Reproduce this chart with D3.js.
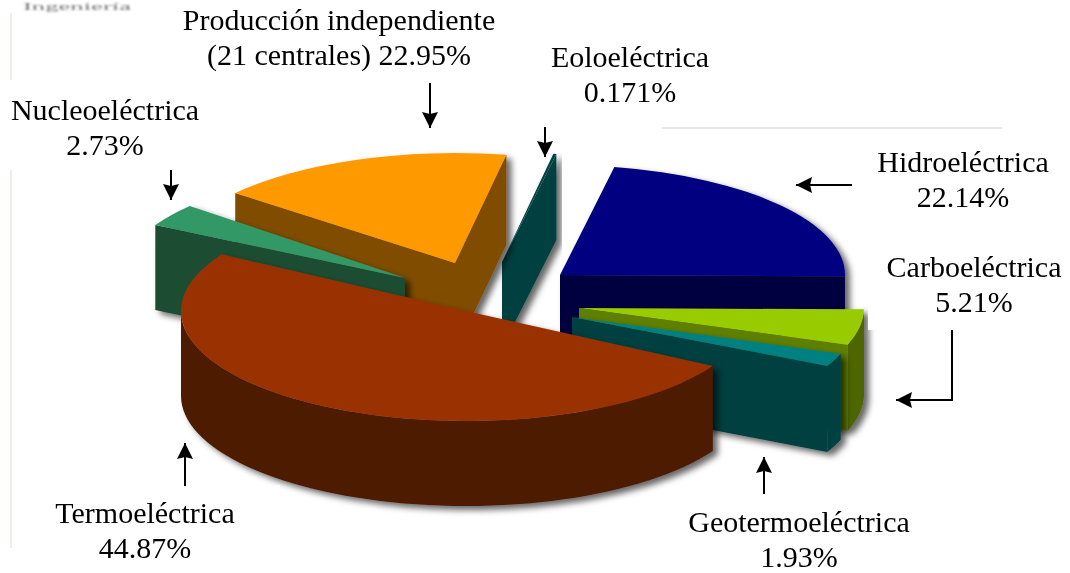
<!DOCTYPE html>
<html>
<head>
<meta charset="utf-8">
<script src="https://cdn.jsdelivr.net/npm/d3@7"></script>
<style>
    html, body { margin: 0; padding: 0; background: #fff; }
    svg { display: block; }
    text { font-family: "Liberation Serif", serif; font-size: 30px; fill: #000; }
</style>
</head>
<body>
<svg width="1070" height="573"></svg>
<script>
// pie order, clockwise from the top of the hydro slice
const sliceNames = ["Hidroeléctrica", "Carboeléctrica", "Geotermoeléctrica", "Termoeléctrica", "Nucleoeléctrica", "Producción", "Eoloeléctrica"];
// slice sizes as they are drawn in the picture (termo and produccion differ from their printed %)
const drawnShares = [22.14, 5.21, 1.93, 50.28, 3.37, 16.899, 0.171];
const labelFirstLines = ["Hidroeléctrica", "Carboeléctrica", "Geotermoeléctrica", "Termoeléctrica", "Nucleoeléctrica", "Producción independiente", "Eoloeléctrica"];
const labelSecondLines = ["22.14%", "5.21%", "1.93%", "44.87%", "2.73%", "(21 centrales) 22.95%", "0.171%"];

// exploded position of each slice, same order as sliceNames
const apexX = [560, 579, 572, 466, 405, 455, 502];
const apexY = [275, 308, 317, 311, 278, 263, 262];
const depths = [60, 86, 86, 85, 85, 90, 86];
const turns = [0, 0, 0, 3.6, 1.4, 0, 0];
const topColors = ["#000080", "#99cc00", "#008080", "#993300", "#339966", "#ff9900", "#004040"];
const sideColors = ["#000040", "#5f7f00", "#004040", "#4d1a00", "#1a4d33", "#804d00", "#004040"];
const rimColors = ["#000040", "#4d6600", "#004040", "#4d1a00", "#1a4d33", "#804d00", "#004040"];
const drawOrder = [0, 6, 5, 4, 1, 2, 3];

const labelCenterX = [963, 974, 799, 145, 105, 339, 630];
const labelBaseY = [172, 277, 532, 523, 120, 30, 67];

const radiusX = 285;
const radiusY = 110;
const lineGap = 35;

const svg = d3.select("svg");
const defs = svg.append("defs");

defs.append("filter")
    .attr("id", "shadow")
    .attr("x", "-10%").attr("y", "-10%")
    .attr("width", "120%").attr("height", "125%")
    .append("feDropShadow")
    .attr("dx", 5)
    .attr("dy", 4)
    .attr("stdDeviation", 3)
    .attr("flood-color", "#000")
    .attr("flood-opacity", 0.6);

defs.append("filter")
    .attr("id", "soft")
    .append("feGaussianBlur")
    .attr("stdDeviation", 1);

defs.append("filter")
    .attr("id", "softText")
    .append("feGaussianBlur")
    .attr("stdDeviation", 0.4);

defs.append("marker")
    .attr("id", "head")
    .attr("viewBox", "0 0 16 16")
    .attr("refX", 16).attr("refY", 8)
    .attr("markerWidth", 16).attr("markerHeight", 16)
    .attr("markerUnits", "userSpaceOnUse")
    .attr("orient", "auto")
    .append("path")
    .attr("d", "M0,0 L16,8 L0,16 L2,8 Z")
    .attr("fill", "#000");

const pie = d3.pie()
    .sort(null)
    .startAngle(11 * Math.PI / 180)
    .endAngle(371 * Math.PI / 180);

const slices = pie(drawnShares).map((d, i) => {
    const turn = turns[i] * Math.PI / 180;
    return { i: i, startAngle: d.startAngle + turn, endAngle: d.endAngle + turn, padAngle: 0 };
});

// top faces are drawn as a circle of radiusX squashed to the ellipse
const topArc = d3.arc()
    .innerRadius(0)
    .outerRadius(radiusX);

const px = (a) => radiusX * Math.sin(a);
const py = (a) => -radiusY * Math.cos(a);

const wall = d3.area()
    .x(d => d.x)
    .y0(d => d.y)
    .y1(d => d.y + d.depth);

function radialWall(d, angle) {
    return wall([
        { x: 0, y: 0, depth: depths[d.i] },
        { x: px(angle), y: py(angle), depth: depths[d.i] }
    ]);
}

// only the front half of the rim, the back half would cancel it out in the fill
function rimWall(d) {
    const from = Math.max(d.startAngle, Math.PI / 2);
    const to = Math.min(d.endAngle, 3 * Math.PI / 2);
    if (to <= from) return null;
    const step = (to - from) / 60;
    const points = d3.range(61).map(n => {
        const a = from + n * step;
        return { x: px(a), y: py(a), depth: depths[d.i] };
    });
    return wall(points);
}

const eachSlice = svg.append("g")
    .attr("class", "slices")
    .selectAll("g")
    .data(drawOrder.map(i => slices[i]))
    .enter()
    .append("g")
    .attr("id", d => "slice_" + d.i)
    .attr("filter", "url(#shadow)")
    .attr("transform", d => "translate(" + apexX[d.i] + "," + apexY[d.i] + ")");

eachSlice.append("path")
    .attr("d", rimWall)
    .attr("fill", d => rimColors[d.i]);

// a side wall only shows when it faces the viewer
eachSlice.filter(d => Math.sin(d.startAngle) < 0)
    .append("path")
    .attr("d", d => radialWall(d, d.startAngle))
    .attr("fill", d => sideColors[d.i]);

eachSlice.filter(d => Math.sin(d.endAngle) > 0)
    .append("path")
    .attr("d", d => radialWall(d, d.endAngle))
    .attr("fill", d => sideColors[d.i]);

eachSlice.append("path")
    .attr("d", topArc)
    .attr("transform", "scale(1," + (radiusY / radiusX) + ")")
    .attr("fill", d => topColors[d.i]);

// white patches of the pasted labels, they cut the slice shadows
svg.selectAll("rect.patch")
    .data([[868, 240, 202, 90], [12, 485, 268, 88]])
    .enter()
    .append("rect")
    .attr("class", "patch")
    .attr("x", d => d[0]).attr("y", d => d[1])
    .attr("width", d => d[2]).attr("height", d => d[3])
    .attr("fill", "#fff");

// leftovers of the page the chart was cut from
const scraps = svg.append("g");
scraps.append("text")
    .attr("x", 23).attr("y", 10)
    .attr("textLength", 108)
    .attr("lengthAdjust", "spacingAndGlyphs")
    .attr("filter", "url(#soft)")
    .style("font-size", "11px")
    .style("fill", "#777")
    .text("Ingeniería");
scraps.selectAll("line")
    .data([[11, 13, 11, 80, "#e8f0e8"], [11, 170, 11, 548, "#e8f0e8"], [662, 128, 1002, 128, "#e8e8e8"]])
    .enter()
    .append("line")
    .attr("x1", d => d[0]).attr("y1", d => d[1])
    .attr("x2", d => d[2]).attr("y2", d => d[3])
    .attr("stroke", d => d[4])
    .attr("stroke-width", 2);

const eachLabel = svg.append("g")
    .attr("class", "labels")
    .attr("filter", "url(#softText)")
    .selectAll("text")
    .data(labelFirstLines)
    .enter()
    .append("text")
    .attr("text-anchor", "middle")
    .attr("transform", (d, i) => "translate(" + labelCenterX[i] + "," + labelBaseY[i] + ")");

eachLabel.append("tspan")
    .attr("x", 0).attr("y", 0)
    .text(d => d);

eachLabel.append("tspan")
    .attr("x", 0).attr("y", lineGap)
    .text((d, i) => labelSecondLines[i]);

const arrowLine = d3.line();
const arrows = [
    [[430, 83], [430, 128]],
    [[545, 127], [545, 157]],
    [[171, 170], [171, 200]],
    [[852, 185], [796, 185]],
    [[952, 330], [952, 400], [896, 400]],
    [[764, 494], [764, 457]],
    [[185, 486], [185, 443]]
];

svg.append("g")
    .attr("class", "arrows")
    .selectAll("path")
    .data(arrows)
    .enter()
    .append("path")
    .attr("d", arrowLine)
    .attr("fill", "none")
    .attr("stroke", "#000")
    .attr("stroke-width", 2)
    .attr("marker-end", "url(#head)");
</script>
</body>
</html>
